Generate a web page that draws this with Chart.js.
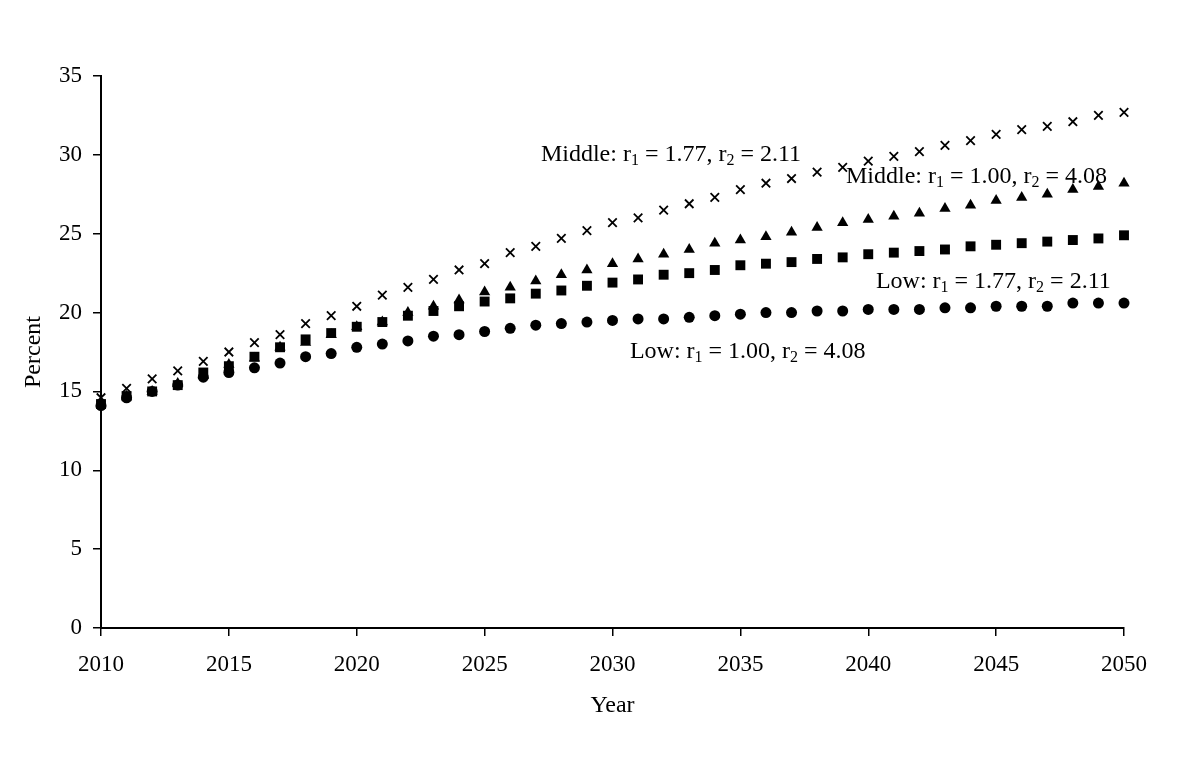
<!DOCTYPE html>
<html>
<head>
<meta charset="utf-8">
<script src="https://cdn.jsdelivr.net/npm/chart.js@4.4.1/dist/chart.umd.min.js"></script>
<style>
  html, body { margin: 0; padding: 0; background: #fff; }
  #wrap { width: 1200px; height: 760px; }
</style>
</head>
<body>
<div id="wrap"><canvas id="chart"></canvas></div>
<script>
const years = [];
for (let y = 2010; y <= 2050; y++) years.push(y);

// Middle: r1 = 1.77, r2 = 2.11 (crosses)
const middleA = [14.6, 15.2, 15.8, 16.3, 16.9, 17.5, 18.1, 18.6, 19.3, 19.8,
  20.4, 21.1, 21.6, 22.1, 22.7, 23.1, 23.8, 24.2, 24.7, 25.2,
  25.7, 26.0, 26.5, 26.9, 27.3, 27.8, 28.2, 28.5, 28.9, 29.2,
  29.6, 29.9, 30.2, 30.6, 30.9, 31.3, 31.6, 31.8, 32.1, 32.5, 32.7];
// Middle: r1 = 1.00, r2 = 4.08 (triangles)
const middleB = [14.2, 14.7, 15.0, 15.5, 16.0, 16.7, 17.1, 17.8, 18.1, 18.6,
  19.1, 19.4, 20.0, 20.4, 20.8, 21.3, 21.6, 22.0, 22.4, 22.7,
  23.1, 23.4, 23.7, 24.0, 24.4, 24.6, 24.8, 25.1, 25.4, 25.7,
  25.9, 26.1, 26.3, 26.6, 26.8, 27.1, 27.3, 27.5, 27.8, 28.0, 28.2];
// Low: r1 = 1.77, r2 = 2.11 (squares)
const lowA = [14.2, 14.7, 15.0, 15.4, 16.2, 16.6, 17.2, 17.8, 18.3, 18.7,
  19.1, 19.4, 19.8, 20.1, 20.4, 20.7, 20.9, 21.2, 21.4, 21.7,
  21.9, 22.1, 22.4, 22.5, 22.7, 23.0, 23.1, 23.2, 23.4, 23.5,
  23.7, 23.8, 23.9, 24.0, 24.2, 24.3, 24.4, 24.5, 24.6, 24.7, 24.9];
// Low: r1 = 1.00, r2 = 4.08 (circles)
const lowB = [14.1, 14.6, 15.0, 15.4, 15.9, 16.2, 16.5, 16.8, 17.2, 17.4,
  17.8, 18.0, 18.2, 18.5, 18.6, 18.8, 19.0, 19.2, 19.3, 19.4,
  19.5, 19.6, 19.6, 19.7, 19.8, 19.9, 20.0, 20.0, 20.1, 20.1,
  20.2, 20.2, 20.2, 20.3, 20.3, 20.4, 20.4, 20.4, 20.6, 20.6, 20.6];

const xTicks = [2010, 2015, 2020, 2025, 2030, 2035, 2040, 2045, 2050];
const yTicks = [0, 5, 10, 15, 20, 25, 30, 35];

const serif = "'Liberation Serif', 'DejaVu Serif', serif";

function pts(values) {
  return values.map((v, i) => ({ x: years[i], y: v }));
}

// text labels with subscripts, anchored (left, baseline) in data units
const notes = [
  { x: 2027.2, y: 29.61, parts: ['Middle: r', '1', ' = 1.77, r', '2', ' = 2.11'] },
  { x: 2039.13, y: 28.22, parts: ['Middle: r', '1', ' = 1.00, r', '2', ' = 4.08'] },
  { x: 2040.3, y: 21.56, parts: ['Low: r', '1', ' = 1.77, r', '2', ' = 2.11'] },
  { x: 2030.68, y: 17.12, parts: ['Low: r', '1', ' = 1.00, r', '2', ' = 4.08'] }
];

const notesPlugin = {
  id: 'notes',
  afterDatasetsDraw(chart) {
    const ctx = chart.ctx;
    const xs = chart.scales.x, ys = chart.scales.y;
    ctx.save();
    ctx.fillStyle = '#000';
    ctx.textBaseline = 'alphabetic';
    notes.forEach(n => {
      let px = xs.getPixelForValue(n.x);
      const py = ys.getPixelForValue(n.y);
      n.parts.forEach((p, i) => {
        const sub = i % 2 === 1;
        ctx.font = (sub ? '16px ' : '24px ') + serif;
        ctx.fillText(p, px, sub ? py + 4 : py);
        px += ctx.measureText(p).width;
      });
    });
    ctx.restore();
  }
};

new Chart(document.getElementById('chart'), {
  type: 'scatter',
  data: {
    datasets: [
      { label: 'Low r1=1.00', data: pts(lowB), pointStyle: 'circle', pointRadius: 5.5,
        backgroundColor: '#000', borderColor: '#000', borderWidth: 0, clip: false },
      { label: 'Low r1=1.77', data: pts(lowA), pointStyle: 'rect', pointRadius: 7,
        backgroundColor: '#000', borderColor: '#000', borderWidth: 0, clip: false },
      { label: 'Middle r1=1.00', data: pts(middleB), pointStyle: 'triangle', pointRadius: 6.5,
        backgroundColor: '#000', borderColor: '#000', borderWidth: 0, clip: false },
      { label: 'Middle r1=1.77', data: pts(middleA), pointStyle: 'crossRot', pointRadius: 6,
        backgroundColor: '#000', borderColor: '#000', borderWidth: 1.8, clip: false }
    ]
  },
  options: {
    responsive: true,
    maintainAspectRatio: false,
    animation: false,
    layout: { padding: { left: 0, right: 76, top: 76, bottom: 0 } },
    plugins: {
      legend: { display: false },
      tooltip: { enabled: false }
    },
    scales: {
      x: {
        type: 'linear',
        min: 2010,
        max: 2050,
        afterBuildTicks: axis => { axis.ticks = xTicks.map(v => ({ value: v })); },
        afterFit: axis => { axis.height = 132; },
        grid: { display: true, drawOnChartArea: false, drawTicks: true, tickLength: 8, color: '#000', lineWidth: 1.5 },
        border: { display: true, color: '#000', width: 2 },
        ticks: {
          color: '#000',
          padding: 15,
          maxRotation: 0,
          font: { family: serif, size: 23 },
          callback: v => String(v)
        },
        title: {
          display: true,
          text: 'Year',
          color: '#000',
          font: { family: serif, size: 24 },
          padding: { top: 0, bottom: 40 }
        }
      },
      y: {
        min: 0,
        max: 35,
        afterBuildTicks: axis => { axis.ticks = yTicks.map(v => ({ value: v })); },
        afterFit: axis => { axis.width = 101; },
        grid: { display: true, drawOnChartArea: false, drawTicks: true, tickLength: 8, color: '#000', lineWidth: 1.5 },
        border: { display: true, color: '#000', width: 2 },
        ticks: {
          color: '#000',
          padding: 11,
          font: { family: serif, size: 23 }
        },
        title: {
          display: true,
          text: 'Percent',
          color: '#000',
          font: { family: serif, size: 24 },
          padding: { top: 19, bottom: 0 }
        }
      }
    }
  },
  plugins: [notesPlugin]
});
</script>
</body>
</html>
